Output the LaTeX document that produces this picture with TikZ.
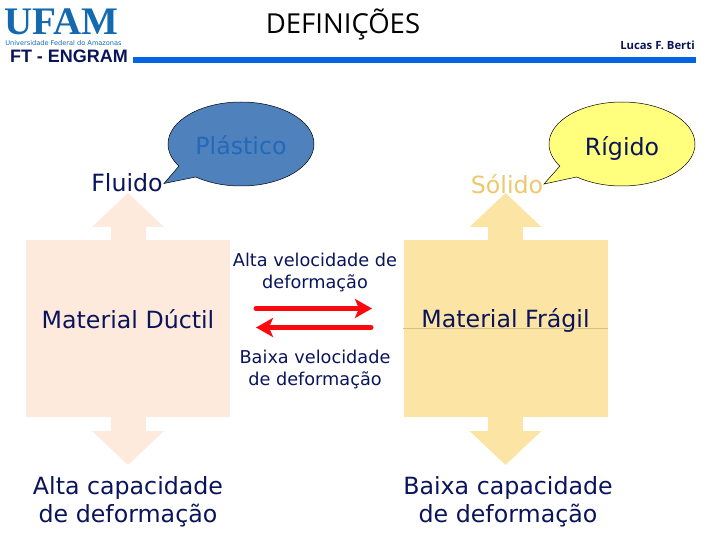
\documentclass[tikz,border=0pt]{standalone}
\usepackage{fontspec}
\usepackage{xcolor}
\usepackage{tikz}
\usetikzlibrary{arrows.meta, positioning, shapes.callouts}
\setmainfont{DejaVu Sans}
\newfontfamily\titlefont{Open Sans}
\newfontfamily\headfont{Liberation Sans}
\newfontfamily\logofont{Liberation Serif}
\definecolor{navytext}{RGB}{10,20,90}
\definecolor{ufamblue}{RGB}{20,105,175}
\definecolor{barblue}{RGB}{5,100,225}
\definecolor{lightpeach}{RGB}{253,234,220}
\definecolor{lightsand}{RGB}{252,228,165}
\definecolor{solidotext}{RGB}{236,200,110}
\definecolor{plasticfill}{RGB}{79,129,189}
\definecolor{plastictext}{RGB}{35,105,185}
\definecolor{rigidfill}{RGB}{255,255,125}
\definecolor{redarrow}{RGB}{250,10,15}

\begin{document}
\begin{tikzpicture}[
    x=1pt, y=-1pt,
    label/.style={text=navytext, align=center, font=\fontsize{23.7}{28}\selectfont, inner sep=0pt},
    small/.style={text=navytext, align=center, font=\fontsize{17.7}{22}\selectfont, inner sep=0pt},
    block/.style={minimum width=204pt, minimum height=177pt, inner sep=0pt},
    bigarrow/.style={-{Triangle[length=34pt, width=70pt]}, line width=35pt},
    bubble/.style={ellipse callout, draw=black, line width=0.5pt, minimum width=146pt, minimum height=84pt, inner sep=0pt, callout pointer arc=20},
    flow/.style={-{Stealth[length=17pt, width=19pt, inset=4pt]}, redarrow, line width=5pt, line cap=round},
]
    \useasboundingbox (0, 0) rectangle (720, 540);

    % header
    \node[text=ufamblue, font=\logofont\bfseries\fontsize{39}{39}\selectfont, inner sep=0pt] (ufam) at (61.5, 21.5) {UFAM};
    \node[text=ufamblue, font=\fontsize{6.6}{7}\selectfont, inner sep=0pt] (univ) at (63.5, 43) {Universidade Federal do Amazonas};
    \node[text=navytext, font=\headfont\bfseries\fontsize{18}{18}\selectfont, inner sep=0pt] (ft) at (69, 56.5) {FT - ENGRAM};
    \node[font=\titlefont\fontsize{27.5}{28}\selectfont, inner sep=0pt] (title) at (343, 24) {DEFINIÇÕES};
    \node[text=navytext, font=\titlefont\bfseries\fontsize{11.3}{12}\selectfont, inner sep=0pt] (autor) at (657.5, 45) {Lucas F. Berti};
    \fill[barblue] (133, 57) rectangle (696, 63);

    % blocks and block arrows
    \node[block, fill=lightpeach] (ductil) at (128, 328.5) {};
    \node[block, fill=lightsand] (fragil) at (505.5, 328.5) {};
    \draw[lightsand!85!black, line width=0.3pt] (fragil.west) -- (fragil.east);
    \coordinate (upl) at (128, 193);
    \coordinate (downl) at (128, 465);
    \coordinate (upr) at (505.5, 193);
    \coordinate (downr) at (505.5, 465);
    \draw[bigarrow, lightpeach] (ductil.north) -- (upl);
    \draw[bigarrow, lightpeach] (ductil.south) -- (downl);
    \draw[bigarrow, lightsand] (fragil.north) -- (upr);
    \draw[bigarrow, lightsand] (fragil.south) -- (downr);

    % labels
    \node[label] (fluido) at (127, 183) {Fluido};
    \node[label, text=solidotext] (solido) at (507, 184) {Sólido};
    \node[bubble, fill=plasticfill, callout absolute pointer={(164, 183.5)}] (plastico) at (241, 144) {};
    \node[bubble, fill=rigidfill, callout absolute pointer={(544, 184)}] (rigido) at (622, 144) {};
    \node[label, text=plastictext] at (241, 145) {Plástico};
    \node[label] at (622, 148) {Rígido};

    \node[label] (matd) at (128, 319) {Material Dúctil};
    \node[label] (matf) at (505.5, 320) {Material Frágil};
    \node[label] (altacap) at (128, 502) {Alta capacidade\\de deformação};
    \node[label] (baixacap) at (508, 502) {Baixa capacidade\\de deformação};

    % center arrows
    \node[small] (altav) at (315, 272) {Alta velocidade de\\deformação};
    \node[small] (baixav) at (315, 369) {Baixa velocidade\\de deformação};
    \coordinate (a1) at (256, 308.5);
    \coordinate (a2) at (372, 308.5);
    \coordinate (b1) at (371, 327.5);
    \coordinate (b2) at (256, 327.5);
    \draw[flow] (a1) -- (a2);
    \draw[flow] (b1) -- (b2);
\end{tikzpicture}
\end{document}
